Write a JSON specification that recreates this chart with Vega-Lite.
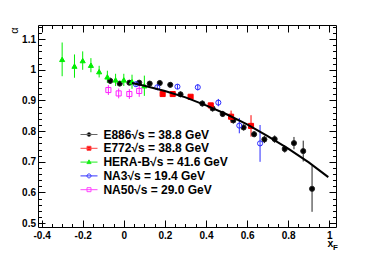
{
  "$schema": "https://vega.github.io/schema/vega-lite/v6.json",
  "width": 298,
  "height": 202,
  "autosize": {"type": "none"},
  "padding": {"left": 38, "top": 25, "right": 38, "bottom": 26},
  "background": "white",
  "config": {
    "view": {"stroke": "black", "strokeWidth": 1},
    "axis": {
      "labelFont": "Liberation Sans", "labelFontWeight": "bold", "labelFontSize": 10, "labelColor": "black",
      "tickColor": "black", "tickWidth": 1, "domain": false, "grid": false,
      "titleFont": "Liberation Sans", "titleFontWeight": "bold", "titleColor": "black"
    }
  },
  "datasets": {
    "pts": [
      {"exp": "E886√s = 38.8 GeV", "x": -0.066, "y": 0.964, "lo": 0.954, "hi": 0.974},
      {"exp": "E886√s = 38.8 GeV", "x": -0.020, "y": 0.955, "lo": 0.947, "hi": 0.963},
      {"exp": "E886√s = 38.8 GeV", "x": 0.027, "y": 0.958, "lo": 0.950, "hi": 0.966},
      {"exp": "E886√s = 38.8 GeV", "x": 0.075, "y": 0.958, "lo": 0.950, "hi": 0.966},
      {"exp": "E886√s = 38.8 GeV", "x": 0.126, "y": 0.955, "lo": 0.947, "hi": 0.963},
      {"exp": "E886√s = 38.8 GeV", "x": 0.175, "y": 0.957, "lo": 0.949, "hi": 0.965},
      {"exp": "E886√s = 38.8 GeV", "x": 0.226, "y": 0.951, "lo": 0.942, "hi": 0.960},
      {"exp": "E886√s = 38.8 GeV", "x": 0.276, "y": 0.920, "lo": 0.911, "hi": 0.929},
      {"exp": "E886√s = 38.8 GeV", "x": 0.382, "y": 0.890, "lo": 0.880, "hi": 0.900},
      {"exp": "E886√s = 38.8 GeV", "x": 0.432, "y": 0.874, "lo": 0.864, "hi": 0.884},
      {"exp": "E886√s = 38.8 GeV", "x": 0.481, "y": 0.856, "lo": 0.846, "hi": 0.866},
      {"exp": "E886√s = 38.8 GeV", "x": 0.533, "y": 0.835, "lo": 0.825, "hi": 0.845},
      {"exp": "E886√s = 38.8 GeV", "x": 0.583, "y": 0.812, "lo": 0.802, "hi": 0.822},
      {"exp": "E886√s = 38.8 GeV", "x": 0.634, "y": 0.790, "lo": 0.780, "hi": 0.800},
      {"exp": "E886√s = 38.8 GeV", "x": 0.684, "y": 0.773, "lo": 0.761, "hi": 0.785},
      {"exp": "E886√s = 38.8 GeV", "x": 0.734, "y": 0.774, "lo": 0.762, "hi": 0.786},
      {"exp": "E886√s = 38.8 GeV", "x": 0.783, "y": 0.742, "lo": 0.730, "hi": 0.754},
      {"exp": "E886√s = 38.8 GeV", "x": 0.828, "y": 0.761, "lo": 0.741, "hi": 0.781},
      {"exp": "E886√s = 38.8 GeV", "x": 0.873, "y": 0.735, "lo": 0.701, "hi": 0.769},
      {"exp": "E886√s = 38.8 GeV", "x": 0.916, "y": 0.612, "lo": 0.537, "hi": 0.687},
      {"exp": "E772√s = 38.8 GeV", "x": 0.189, "y": 0.921, "lo": 0.916, "hi": 0.926},
      {"exp": "E772√s = 38.8 GeV", "x": 0.238, "y": 0.921, "lo": 0.916, "hi": 0.926},
      {"exp": "E772√s = 38.8 GeV", "x": 0.325, "y": 0.912, "lo": 0.906, "hi": 0.918},
      {"exp": "E772√s = 38.8 GeV", "x": 0.423, "y": 0.884, "lo": 0.876, "hi": 0.892},
      {"exp": "E772√s = 38.8 GeV", "x": 0.522, "y": 0.847, "lo": 0.827, "hi": 0.867},
      {"exp": "E772√s = 38.8 GeV", "x": 0.619, "y": 0.817, "lo": 0.782, "hi": 0.852},
      {"exp": "HERA-B√s = 41.6 GeV", "x": -0.30, "y": 1.034, "lo": 0.979, "hi": 1.089},
      {"exp": "HERA-B√s = 41.6 GeV", "x": -0.24, "y": 1.012, "lo": 0.974, "hi": 1.050},
      {"exp": "HERA-B√s = 41.6 GeV", "x": -0.20, "y": 1.030, "lo": 1.000, "hi": 1.060},
      {"exp": "HERA-B√s = 41.6 GeV", "x": -0.16, "y": 1.015, "lo": 0.992, "hi": 1.038},
      {"exp": "HERA-B√s = 41.6 GeV", "x": -0.12, "y": 0.994, "lo": 0.975, "hi": 1.013},
      {"exp": "HERA-B√s = 41.6 GeV", "x": -0.08, "y": 0.977, "lo": 0.957, "hi": 0.997},
      {"exp": "HERA-B√s = 41.6 GeV", "x": -0.04, "y": 0.967, "lo": 0.947, "hi": 0.987},
      {"exp": "HERA-B√s = 41.6 GeV", "x": 0.00, "y": 0.967, "lo": 0.947, "hi": 0.987},
      {"exp": "HERA-B√s = 41.6 GeV", "x": 0.04, "y": 0.961, "lo": 0.938, "hi": 0.984},
      {"exp": "HERA-B√s = 41.6 GeV", "x": 0.10, "y": 0.948, "lo": 0.915, "hi": 0.981},
      {"exp": "NA3√s = 19.4 GeV", "x": 0.059, "y": 0.953, "lo": 0.947, "hi": 0.959},
      {"exp": "NA3√s = 19.4 GeV", "x": 0.163, "y": 0.943, "lo": 0.935, "hi": 0.951},
      {"exp": "NA3√s = 19.4 GeV", "x": 0.261, "y": 0.945, "lo": 0.937, "hi": 0.953},
      {"exp": "NA3√s = 19.4 GeV", "x": 0.360, "y": 0.943, "lo": 0.933, "hi": 0.953},
      {"exp": "NA3√s = 19.4 GeV", "x": 0.460, "y": 0.893, "lo": 0.881, "hi": 0.905},
      {"exp": "NA3√s = 19.4 GeV", "x": 0.562, "y": 0.818, "lo": 0.793, "hi": 0.843},
      {"exp": "NA3√s = 19.4 GeV", "x": 0.663, "y": 0.760, "lo": 0.700, "hi": 0.820},
      {"exp": "NA50√s = 29.0 GeV", "x": -0.075, "y": 0.934, "lo": 0.918, "hi": 0.950},
      {"exp": "NA50√s = 29.0 GeV", "x": -0.025, "y": 0.923, "lo": 0.907, "hi": 0.939},
      {"exp": "NA50√s = 29.0 GeV", "x": 0.027, "y": 0.921, "lo": 0.905, "hi": 0.937},
      {"exp": "NA50√s = 29.0 GeV", "x": 0.075, "y": 0.931, "lo": 0.912, "hi": 0.950}
    ],
    "fit": [
      {"x": 0.04, "y": 0.957}, {"x": 0.1, "y": 0.948}, {"x": 0.2, "y": 0.931},
      {"x": 0.3, "y": 0.910}, {"x": 0.4, "y": 0.884}, {"x": 0.5, "y": 0.855},
      {"x": 0.6, "y": 0.822}, {"x": 0.7, "y": 0.784}, {"x": 0.8, "y": 0.743},
      {"x": 0.9, "y": 0.698}, {"x": 0.995, "y": 0.650}
    ]
  },
  "layer": [
    {
      "data": {"name": "pts"},
      "mark": {"type": "rule", "strokeWidth": 1},
      "encoding": {
        "x": {
          "field": "x", "type": "quantitative",
          "scale": {"domain": [-0.4175, 1.0325], "nice": false, "zero": false},
          "axis": {
            "orient": "bottom",
            "values": [-0.4,-0.35,-0.3,-0.25,-0.2,-0.15,-0.1,-0.05,0,0.05,0.1,0.15,0.2,0.25,0.3,0.35,0.4,0.45,0.5,0.55,0.6,0.65,0.7,0.75,0.8,0.85,0.9,0.95,1.0],
            "tickSize": {"condition": {"test": "abs(datum.value*5 - round(datum.value*5)) < 0.001", "value": -7}, "value": -3.5},
            "labelExpr": "abs(datum.value*5 - round(datum.value*5)) < 0.001 ? replace(format(datum.value, '~g'), '−', '-') : ''",
            "labelPadding": 10,
            "labelFlush": false,
            "labelOverlap": false,
            "title": "x",
            "titleFontSize": 10.5,
            "titleX": 292,
            "titleY": 11.5,
            "titleAlign": "center",
            "titleBaseline": "top"
          }
        },
        "y": {
          "field": "lo", "type": "quantitative",
          "scale": {"domain": [0.4875, 1.146], "nice": false, "zero": false},
          "axis": {
            "orient": "left",
            "values": [0.5,0.52,0.54,0.56,0.58,0.6,0.62,0.64,0.66,0.68,0.7,0.72,0.74,0.76,0.78,0.8,0.82,0.84,0.86,0.88,0.9,0.92,0.94,0.96,0.98,1.0,1.02,1.04,1.06,1.08,1.1,1.12,1.14],
            "tickSize": {"condition": {"test": "abs(datum.value*10 - round(datum.value*10)) < 0.001", "value": -7}, "value": -3.5},
            "labelExpr": "abs(datum.value*10 - round(datum.value*10)) < 0.001 ? format(datum.value, '~g') : ''",
            "labelPadding": 9.5,
            "labelFlush": false,
            "labelOverlap": false,
            "title": "α",
            "titleFontSize": 11,
            "titleFontWeight": "normal",
            "titleAngle": 270,
            "titleX": -24,
            "titleY": 5,
            "titleAlign": "center",
            "titleBaseline": "middle"
          }
        },
        "y2": {"field": "hi"},
        "stroke": {
          "field": "exp", "type": "nominal",
          "scale": {
            "domain": ["E886√s = 38.8 GeV", "E772√s = 38.8 GeV", "HERA-B√s = 41.6 GeV", "NA3√s = 19.4 GeV", "NA50√s = 29.0 GeV"],
            "range": ["#222222", "#ff0000", "#00ee00", "#2a2aff", "#ff22ff"]
          },
          "legend": null
        }
      }
    },
    {
      "data": {"name": "pts"},
      "mark": {"type": "point", "strokeWidth": 1, "size": 26, "opacity": 1},
      "encoding": {
        "x": {
          "field": "x", "type": "quantitative",
          "scale": {"domain": [-0.4175, 1.0325], "nice": false, "zero": false},
          "axis": {
            "orient": "top",
            "values": [-0.4,-0.35,-0.3,-0.25,-0.2,-0.15,-0.1,-0.05,0,0.05,0.1,0.15,0.2,0.25,0.3,0.35,0.4,0.45,0.5,0.55,0.6,0.65,0.7,0.75,0.8,0.85,0.9,0.95,1.0],
            "tickSize": {"condition": {"test": "abs(datum.value*5 - round(datum.value*5)) < 0.001", "value": -7}, "value": -3.5},
            "labels": false,
            "title": null
          }
        },
        "y": {
          "field": "y", "type": "quantitative",
          "scale": {"domain": [0.4875, 1.146], "nice": false, "zero": false},
          "axis": {
            "orient": "right",
            "values": [0.5,0.52,0.54,0.56,0.58,0.6,0.62,0.64,0.66,0.68,0.7,0.72,0.74,0.76,0.78,0.8,0.82,0.84,0.86,0.88,0.9,0.92,0.94,0.96,0.98,1.0,1.02,1.04,1.06,1.08,1.1,1.12,1.14],
            "tickSize": {"condition": {"test": "abs(datum.value*10 - round(datum.value*10)) < 0.001", "value": -7}, "value": -3.5},
            "labels": false,
            "title": null
          }
        },
        "fill": {
          "field": "exp", "type": "nominal",
          "scale": {
            "domain": ["E886√s = 38.8 GeV", "E772√s = 38.8 GeV", "HERA-B√s = 41.6 GeV", "NA3√s = 19.4 GeV", "NA50√s = 29.0 GeV"],
            "range": ["#000000", "#ff0000", "#00ee00", "transparent", "transparent"]
          },
          "legend": null
        },
        "stroke": {
          "field": "exp", "type": "nominal",
          "scale": {
            "domain": ["E886√s = 38.8 GeV", "E772√s = 38.8 GeV", "HERA-B√s = 41.6 GeV", "NA3√s = 19.4 GeV", "NA50√s = 29.0 GeV"],
            "range": ["#222222", "#ff0000", "#00ee00", "#2a2aff", "#ff22ff"]
          },
          "legend": null
        },
        "shape": {
          "field": "exp", "type": "nominal",
          "scale": {
            "domain": ["E886√s = 38.8 GeV", "E772√s = 38.8 GeV", "HERA-B√s = 41.6 GeV", "NA3√s = 19.4 GeV", "NA50√s = 29.0 GeV"],
            "range": ["circle", "square", "triangle-up", "circle", "square"]
          },
          "legend": null
        }
      }
    },
    {
      "data": {"name": "pts"},
      "mark": {"type": "point", "strokeWidth": 1, "size": 100, "opacity": 0},
      "encoding": {
        "x": {
          "field": "x", "type": "quantitative",
          "scale": {"domain": [-0.4175, 1.0325], "nice": false, "zero": false},
          "axis": null
        },
        "y": {
          "field": "y", "type": "quantitative",
          "scale": {"domain": [0.4875, 1.146], "nice": false, "zero": false},
          "axis": null
        },
        "fill": {
          "field": "exp", "type": "nominal",
          "scale": {
            "domain": ["E886√s = 38.8 GeV", "E772√s = 38.8 GeV", "HERA-B√s = 41.6 GeV", "NA3√s = 19.4 GeV", "NA50√s = 29.0 GeV"],
            "range": ["#000000", "#ff0000", "#00ee00", "transparent", "transparent"]
          },
          "legend": {
            "orient": "none", "legendX": 45, "legendY": 103.5, "title": null, "padding": 0,
            "labelFont": "Liberation Sans", "labelFontWeight": "bold", "labelFontSize": 12, "labelColor": "black",
            "symbolSize": 100, "labelOffset": 8.4, "rowPadding": 1.8, "symbolStrokeWidth": 1, "symbolOpacity": 1
          }
        },
        "stroke": {
          "field": "exp", "type": "nominal",
          "scale": {
            "domain": ["E886√s = 38.8 GeV", "E772√s = 38.8 GeV", "HERA-B√s = 41.6 GeV", "NA3√s = 19.4 GeV", "NA50√s = 29.0 GeV"],
            "range": ["#666666", "#ff4444", "#22ee22", "#3333ff", "#ff44ff"]
          },
          "legend": {
            "orient": "none", "legendX": 45, "legendY": 103.5, "title": null, "padding": 0,
            "labelFont": "Liberation Sans", "labelFontWeight": "bold", "labelFontSize": 12, "labelColor": "black",
            "symbolSize": 100, "labelOffset": 8.4, "rowPadding": 1.8, "symbolStrokeWidth": 1, "symbolOpacity": 1
          }
        },
        "shape": {
          "field": "exp", "type": "nominal",
          "scale": {
            "domain": ["E886√s = 38.8 GeV", "E772√s = 38.8 GeV", "HERA-B√s = 41.6 GeV", "NA3√s = 19.4 GeV", "NA50√s = 29.0 GeV"],
            "range": [
              "M-1.7,0H1.7M-0.4,0A0.4,0.4,0,1,0,0.4,0A0.4,0.4,0,1,0,-0.4,0Z",
              "M-1.7,0H1.7M-0.4,-0.4H0.4V0.4H-0.4Z",
              "M-1.7,0H1.7M0,-0.45L0.42,0.3L-0.42,0.3Z",
              "M-1.7,0H1.7M-0.4,0A0.4,0.4,0,1,0,0.4,0A0.4,0.4,0,1,0,-0.4,0Z",
              "M-1.7,0H1.7M-0.4,-0.4H0.4V0.4H-0.4Z"
            ]
          },
          "legend": {
            "orient": "none", "legendX": 45, "legendY": 103.5, "title": null, "padding": 0,
            "labelFont": "Liberation Sans", "labelFontWeight": "bold", "labelFontSize": 12, "labelColor": "black",
            "symbolSize": 100, "labelOffset": 8.4, "rowPadding": 1.8, "symbolStrokeWidth": 1, "symbolOpacity": 1
          }
        }
      }
    },
    {
      "data": {"name": "fit"},
      "mark": {"type": "line", "color": "black", "strokeWidth": 2},
      "encoding": {
        "x": {
          "field": "x", "type": "quantitative",
          "scale": {"domain": [-0.4175, 1.0325], "nice": false, "zero": false},
          "axis": {
            "orient": "bottom",
            "ticks": false,
            "labels": false,
            "domain": false,
            "title": "F",
            "titleFontSize": 8,
            "titleX": 297,
            "titleY": 16,
            "titleAlign": "center",
            "titleBaseline": "top"
          }
        },
        "y": {
          "field": "y", "type": "quantitative",
          "scale": {"domain": [0.4875, 1.146], "nice": false, "zero": false},
          "axis": null
        }
      }
    }
  ],
  "resolve": {
    "axis": {"x": "independent", "y": "independent"},
    "scale": {"fill": "independent", "stroke": "independent", "shape": "independent"}
  }
}
